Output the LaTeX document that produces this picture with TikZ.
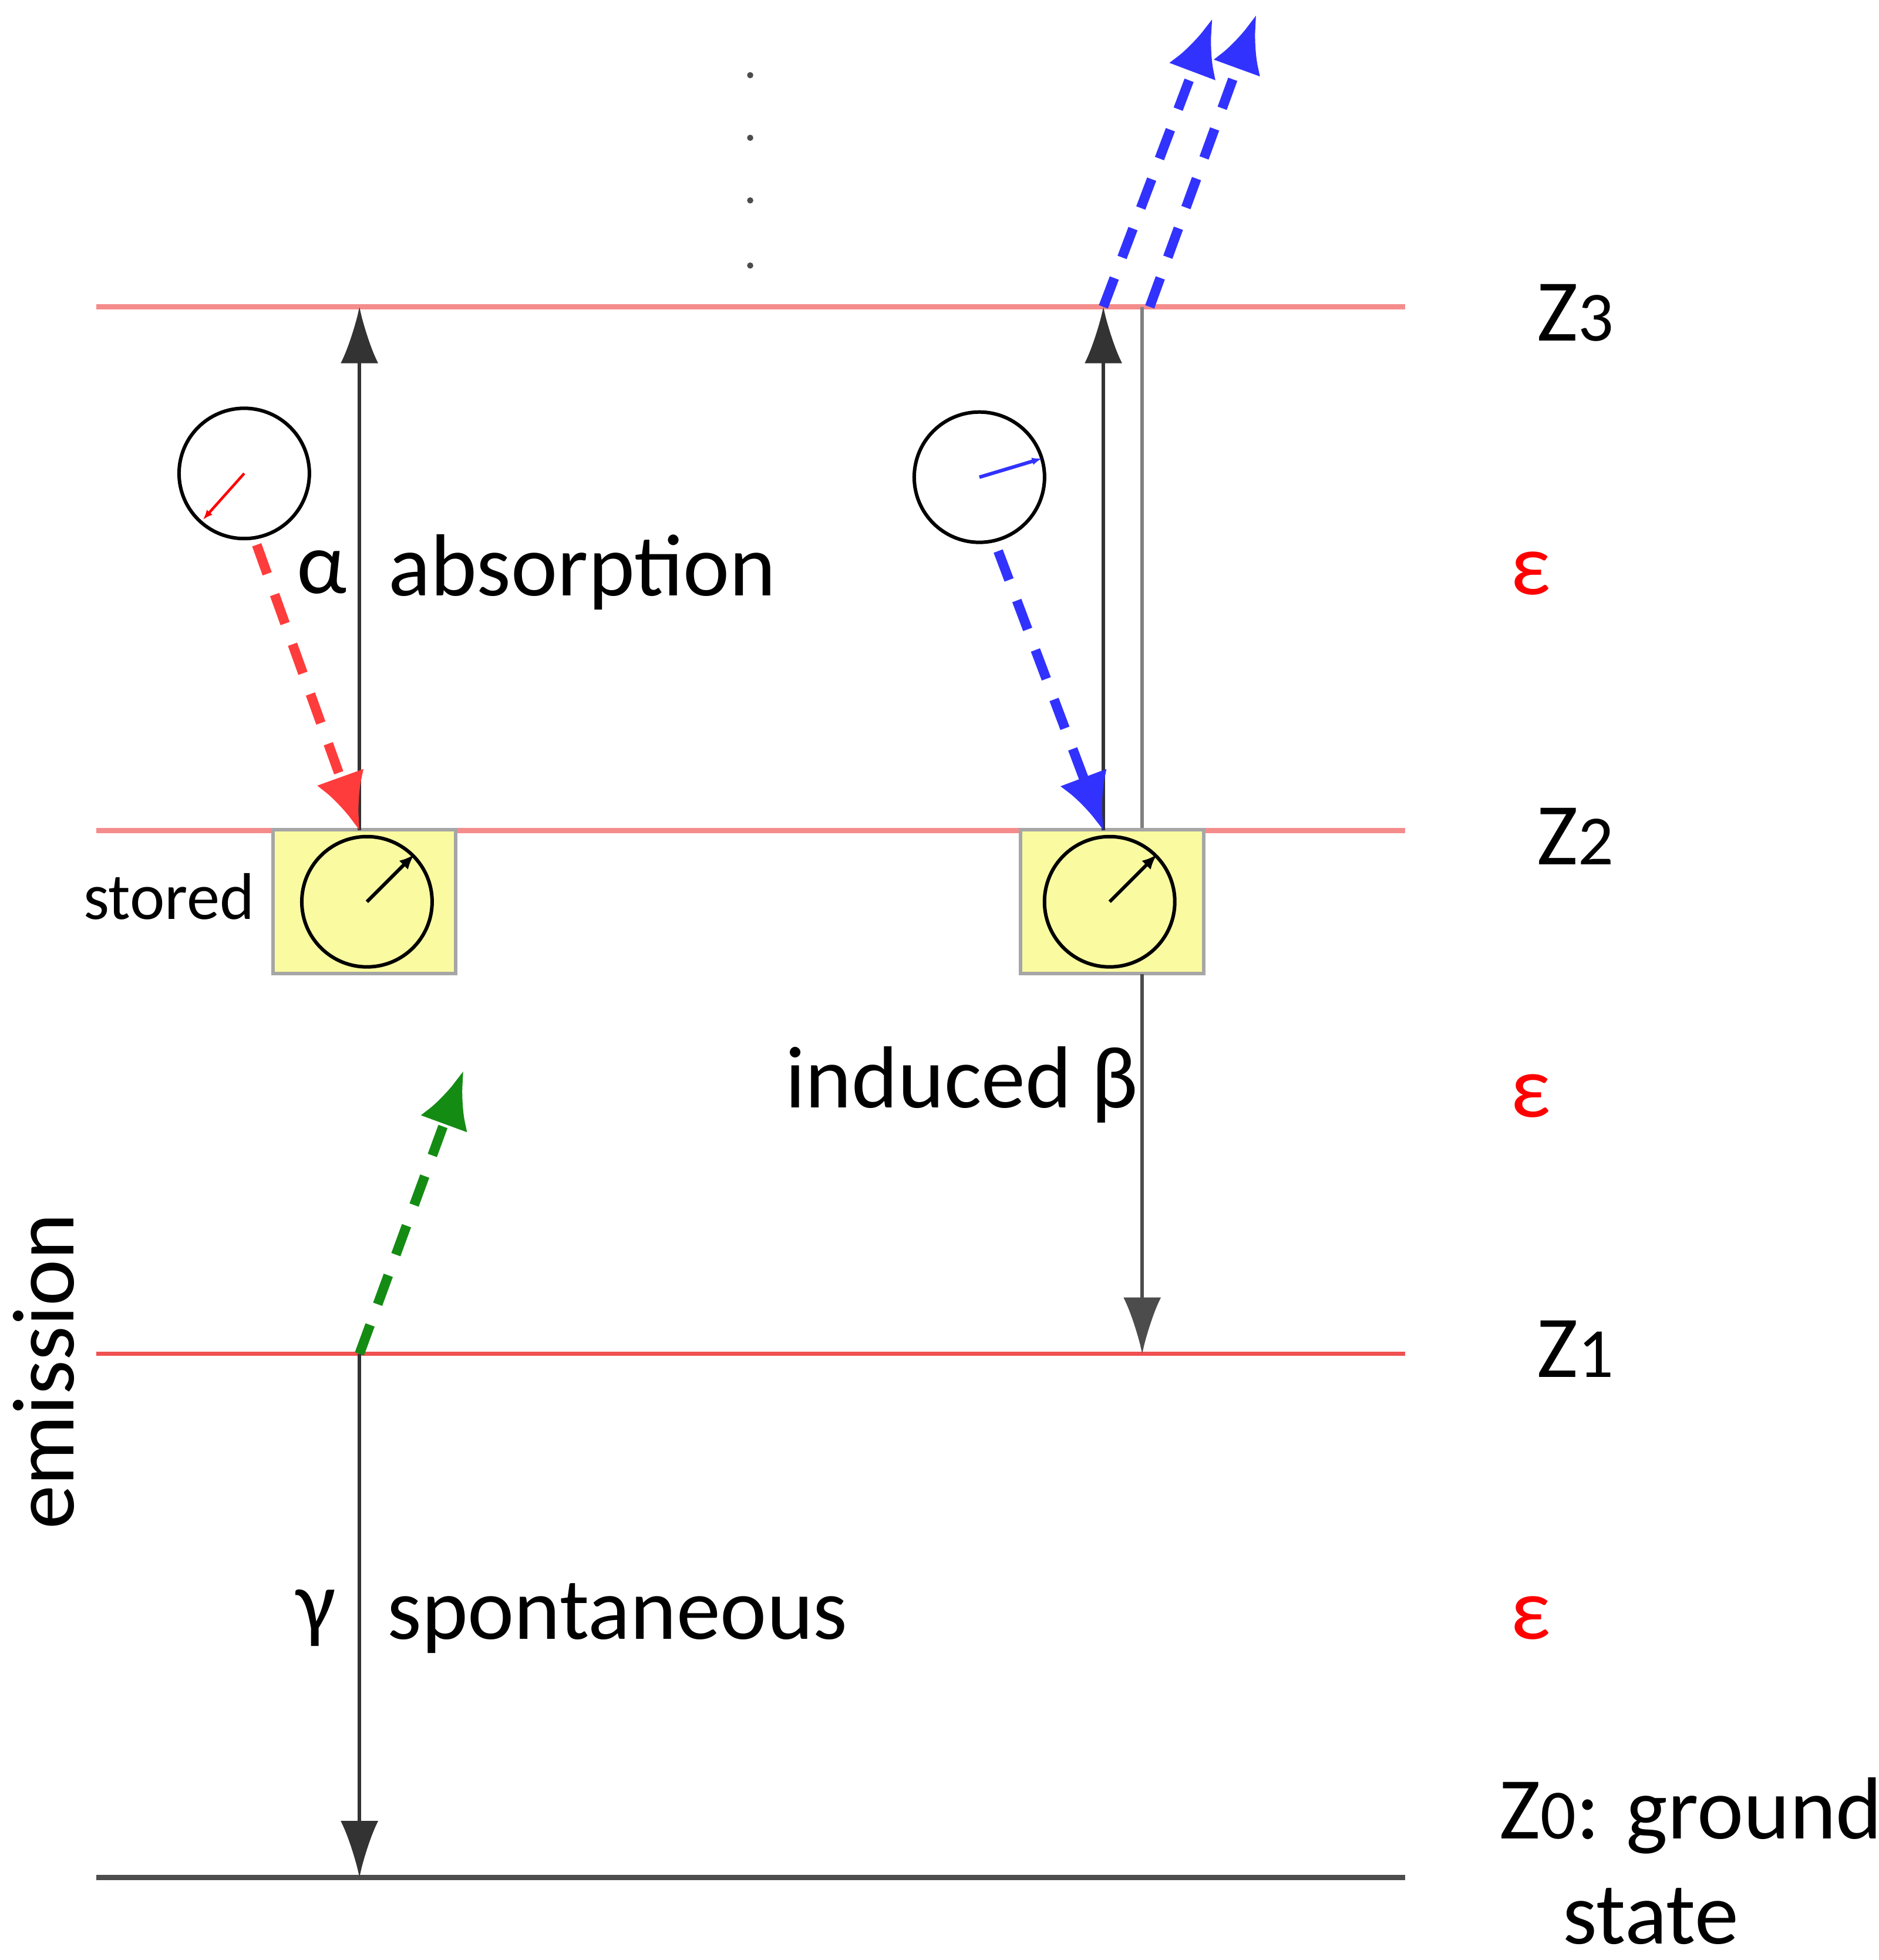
\documentclass[tikz,border=0pt]{standalone}
\usepackage{fontspec}
\setmainfont{Carlito}
\usetikzlibrary{arrows.meta}
\definecolor{lvl}{RGB}{245,140,140}
\definecolor{lvlr}{RGB}{240,80,80}
\definecolor{boxy}{RGB}{250,250,160}
\definecolor{pblue}{RGB}{50,50,255}
\definecolor{pred}{RGB}{255,60,60}
\definecolor{pgreen}{RGB}{20,140,20}
\begin{document}
\begin{tikzpicture}[x=0.01cm,y=-0.01cm,
  lab/.style={font=\fontsize{20}{24}\selectfont,inner sep=0},
  eps/.style={lab,text=red},
  blk/.style={draw=black!80,line width=0.8pt,-{Latex[length=0.45cm,width=0.3cm]}},
  photon/.style={line width=2.2pt,dash pattern=on 7pt off 5pt,-{Latex[length=0.45cm,width=0.4cm]}},
  atom/.style={circle,draw,line width=0.8pt,minimum size=1.04cm,inner sep=0},
  sbox/.style={draw=black!35,fill=boxy,line width=0.8pt,minimum width=1.46cm,minimum height=1.15cm,inner sep=0}]
\useasboundingbox (0,0) rectangle (1500,1565);
% levels
\coordinate (z3l) at (77,245); \coordinate (z3r) at (1122,245);
\coordinate (z2l) at (77,663); \coordinate (z2r) at (1122,663);
\coordinate (z1l) at (77,1081); \coordinate (z1r) at (1122,1081);
\coordinate (z0l) at (77,1499); \coordinate (z0r) at (1122,1499);
\draw[lvl,line width=1.2pt] (z3l)--(z3r);
\draw[lvl,line width=1.2pt] (z2l)--(z2r);
\draw[lvlr,line width=1pt] (z1l)--(z1r);
\draw[black!70,line width=1.2pt] (z0l)--(z0r);
\node[lab] (Z3) at (1258,250) {Z\fontsize{16}{20}\selectfont 3};
\node[lab] (Z2) at (1258,668) {Z\fontsize{16}{20}\selectfont 2};
\node[lab] (Z1) at (1258,1077) {Z\fontsize{16}{20}\selectfont 1};
\node[lab] (Z0) at (1350,1450) {Z{\fontsize{16}{20}\selectfont 0}: ground};
\node[lab] (st) at (1318,1530) {state};
\node[eps] (e1) at (1222,458) {ε};
\node[eps] (e2) at (1222,875) {ε};
\node[eps] (e3) at (1222,1292) {ε};
\foreach \yy/\n in {60/a,110/b,160/c,212/d} \node[circle,fill=black!70,inner sep=0.5pt] (dot\n) at (599,\yy) {};
% left
\coordinate (a0) at (287,663); \coordinate (a1) at (287,245);
\draw[gray,line width=0.8pt] (912,245)--(912,663);
\node[sbox] (b1) at (291,720) {};
\node[sbox] (b2) at (888,720) {};
\node[atom] (c1) at (293,720) {};
\node[atom] (c2) at (886,720) {};
\draw[line width=0.8pt,-{Latex[length=0.12cm,width=0.1cm]}] (c1.center)--(c1.45);
\draw[line width=0.8pt,-{Latex[length=0.12cm,width=0.1cm]}] (c2.center)--(c2.45);
\draw[blk] (a0)--(a1);
\node[atom] (c3) at (195,378) {};
\draw[red,line width=0.6pt,-{Latex[length=0.08cm,width=0.06cm]}] (c3.center)--(162,415);
\coordinate (r0) at (205,435);
\draw[photon,pred] (r0)--(a0);
\node[lab] (alpha) at (257,457) {α};
\node[lab] (abs) at (465,457) {absorption};
\node[lab,font=\fontsize{15}{18}\selectfont] (stored) at (135,716) {stored};
% right
\coordinate (b0) at (881,663); \coordinate (b3) at (881,245);
\draw[blk] (b0)--(b3);
\coordinate (d0) at (912,778); \coordinate (d1) at (912,1081);
\draw[blk,draw=black!70] (d0)--(d1);
\node[atom] (c4) at (782,381) {};
\draw[pblue,line width=0.8pt,-{Latex[length=0.08cm,width=0.06cm]}] (c4.center)--(832,366);
\coordinate (u0) at (797,440);
\draw[photon,pblue] (u0)--(b0);
\coordinate (v1) at (968,15); \coordinate (w0) at (918,245); \coordinate (w1) at (1003,12);
\draw[photon,pblue] (b3)--(v1);
\draw[photon,pblue] (w0)--(w1);
\node[lab] (ind) at (768,866) {induced β};
% bottom
\coordinate (g0) at (287,1081); \coordinate (g1) at (370,855);
\draw[photon,pgreen] (g0)--(g1);
\coordinate (s1) at (287,1499);
\draw[blk] (g0)--(s1);
\node[lab] (gam) at (252,1292) {γ};
\node[lab] (spo) at (493,1292) {spontaneous};
\node[lab,rotate=90] (em) at (35,1095) {emission};
\end{tikzpicture}
\end{document}
